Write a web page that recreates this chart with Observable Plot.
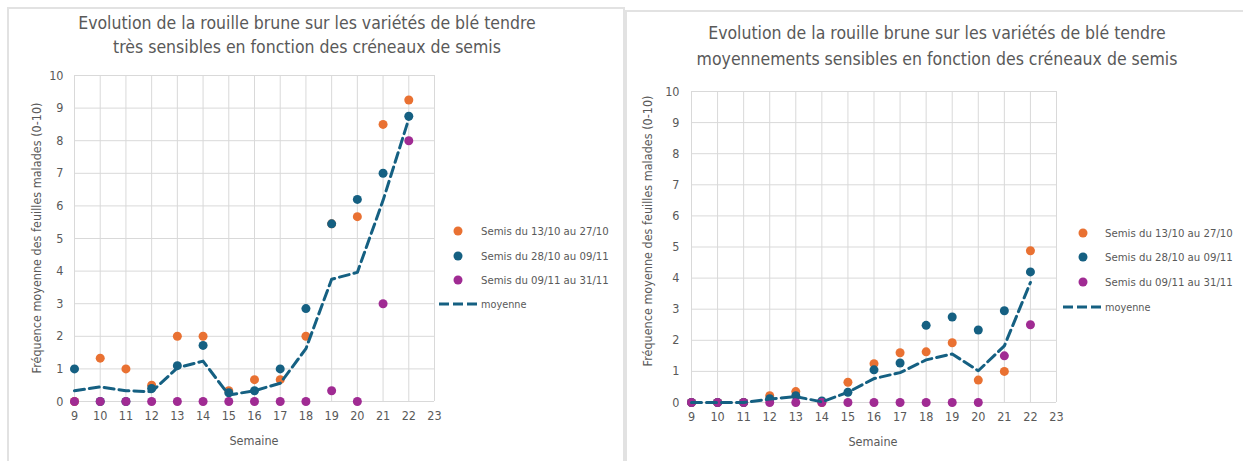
<!DOCTYPE html>
<html><head><meta charset="utf-8">
<script src="https://cdn.jsdelivr.net/npm/d3@7"></script>
<script src="https://cdn.jsdelivr.net/npm/@observablehq/plot@0.6"></script>
<style>
body{margin:0;background:#fff;}
#root{position:relative;width:1243px;height:461px;overflow:hidden;background:#fff;font-family:"DejaVu Sans Condensed","Liberation Sans Narrow",sans-serif;color:#595959;}
.panel{position:absolute;border:2px solid #e2e2e2;box-sizing:border-box;}
.title{position:absolute;text-align:center;font-size:17.5px;white-space:nowrap;}
.ylab{position:absolute;font-size:12.5px;white-space:nowrap;transform:translate(-50%,-50%) rotate(-90deg);}
.xlab{position:absolute;font-size:12.5px;white-space:nowrap;transform:translate(-50%,-50%);}
.leg{position:absolute;font-size:11.3px;white-space:nowrap;transform:translateY(-50%);}
.dotk{position:absolute;width:9px;height:9px;border-radius:50%;transform:translate(-50%,-50%);}
.dashk{position:absolute;transform:translateY(-50%);}
svg.chart{position:absolute;top:0;}
</style></head>
<body><div id="root"></div>
<script>
// ---- data ----
const weeks = [9,10,11,12,13,14,15,16,17,18,19,20,21,22];
const xTicks = [9,10,11,12,13,14,15,16,17,18,19,20,21,22,23];
const yTicks = [0,1,2,3,4,5,6,7,8,9,10];
const seriesNames = ["Semis du 13/10 au 27/10","Semis du 28/10 au 09/11","Semis du 09/11 au 31/11"];
const meanName = "moyenne";
const colors = ["#E97132","#156082","#A02B93"];
const titleTS = ["Evolution de la rouille brune sur les variétés de blé tendre","très sensibles en fonction des créneaux de semis"];
const titleMS = ["Evolution de la rouille brune sur les variétés de blé tendre","moyennements sensibles en fonction des créneaux de semis"];
const yLabel = "Fréquence moyenne des feuilles malades (0-10)";
const xLabel = "Semaine";

// très sensibles
const tsOrange = [0,1.33,1.0,0.5,2.0,2.0,0.33,0.67,0.67,2.0,5.45,5.67,8.5,9.25];
const tsBlue   = [1.0,0,0,0.4,1.1,1.72,0.27,0.33,1.0,2.85,5.45,6.2,7.0,8.75];
const tsPurple = [0,0,0,0,0,0,0,0,0,0,0.33,0,3.0,8.0];
const tsMean   = [0.33,0.45,0.33,0.3,1.03,1.24,0.2,0.33,0.56,1.62,3.75,3.96,6.17,8.67];

// moyennement sensibles
const msOrange = [0,0,0,0.22,0.35,0,0.65,1.25,1.6,1.63,1.92,0.72,1.0,4.88];
const msBlue   = [0,0,0,0.12,0.22,0.05,0.33,1.05,1.27,2.48,2.75,2.33,2.95,4.2];
const msPurple = [0,0,0,0,0,0,0,0,0,0,0,0,1.5,2.5];
const msMean   = [0,0,0,0.11,0.19,0.02,0.33,0.77,0.96,1.37,1.56,1.02,1.82,3.86];

const root = document.getElementById("root");
const FONT = '"DejaVu Sans Condensed","Liberation Sans Narrow",sans-serif';

function el(cls, css, text){
  const d = document.createElement("div");
  d.className = cls;
  Object.assign(d.style, css);
  if (text != null) d.textContent = text;
  root.appendChild(d);
  return d;
}

function chart(cfg){
  const svg = Plot.plot({
    className: "chart",
    width: cfg.width, height: 461,
    marginLeft: cfg.ml, marginRight: cfg.mr, marginTop: cfg.mt, marginBottom: cfg.mb,
    x: {domain:[9,23], label:null},
    y: {domain:[0,10], label:null},
    style: {fontFamily: FONT, fontSize: "12.5px", color: "#595959", background: "transparent", overflow: "visible"},
    marks: [
      Plot.gridX(xTicks, {stroke:"#d9d9d9", strokeOpacity:1, strokeWidth:1}),
      Plot.gridY(yTicks, {stroke:"#d9d9d9", strokeOpacity:1, strokeWidth:1}),
      Plot.axisX(xTicks, {tickSize:0, tickPadding:cfg.xpad, label:null, tickFormat:d=>String(d), fill:"#595959"}),
      Plot.axisY(yTicks, {tickSize:0, tickPadding:cfg.ypad, label:null, tickFormat:d=>String(d), fill:"#595959"}),
      Plot.dot(weeks, {x: weeks, y: cfg.orange, r:4.5, fill: colors[0], stroke:null}),
      Plot.dot(weeks, {x: weeks, y: cfg.blue, r:4.5, fill: colors[1], stroke:null}),
      Plot.dot(weeks, {x: weeks, y: cfg.purple, r:4.5, fill: colors[2], stroke:null}),
      Plot.line(weeks, {x: weeks, y: cfg.mean, stroke: colors[1], strokeWidth:3, strokeDasharray:"10,5", curve: "linear"})
    ]
  });
  svg.classList.add("chart");
  svg.style.position = "absolute";
  svg.style.top = "0px";
  svg.style.left = cfg.left + "px";
  root.appendChild(svg);

  cfg.title.forEach((t,i)=>{
    el("title", {left:(cfg.tcx-300)+"px", width:"600px", top:(cfg.ty[i]-12)+"px", lineHeight:"24px"}, t);
  });
  el("ylab", {left:cfg.ylx+"px", top:cfg.yly+"px"}, yLabel);
  el("xlab", {left:cfg.xlx+"px", top:cfg.xly+"px"}, xLabel);
  seriesNames.forEach((n,i)=>{
    el("dotk", {left:cfg.legDot+"px", top:cfg.legY[i]+"px", background:colors[i]});
    el("leg", {left:cfg.legText+"px", top:cfg.legY[i]+"px"}, n);
  });
  const w = cfg.dashR - cfg.dashL;
  const dk = el("dashk", {left:cfg.dashL+"px", top:cfg.legY[3]+"px", width:w+"px", height:"4px"});
  dk.innerHTML = `<svg width="${w}" height="4" style="display:block"><line x1="0" y1="2" x2="${w}" y2="2" stroke="${colors[1]}" stroke-width="3" stroke-dasharray="10,4"/></svg>`;
  el("leg", {left:cfg.legText+"px", top:cfg.legY[3]+"px", fontSize:"10.8px"}, meanName);
}

el("panel", {left:"7px", top:"7px", width:"618px", height:"470px"});
el("panel", {left:"625px", top:"10px", width:"630px", height:"470px"});

chart({left:0, width:625, ml:74, mr:191, mt:75, mb:60, xpad:10, ypad:11,
  orange:tsOrange, blue:tsBlue, purple:tsPurple, mean:tsMean,
  title:titleTS, tcx:307, ty:[22.5,47.3], ylx:36, yly:238, xlx:254, xly:440,
  legDot:458, legText:481, legY:[231,255.7,280,304.3], dashL:439, dashR:477});

chart({left:625, width:618, ml:66, mr:187, mt:91, mb:59, xpad:10, ypad:12,
  orange:msOrange, blue:msBlue, purple:msPurple, mean:msMean,
  title:titleMS, tcx:937, ty:[33.3,59], ylx:647, yly:231, xlx:873, xly:440.7,
  legDot:1083, legText:1105, legY:[232.7,257,281.7,306.7], dashL:1063, dashR:1101});
</script></body></html>
